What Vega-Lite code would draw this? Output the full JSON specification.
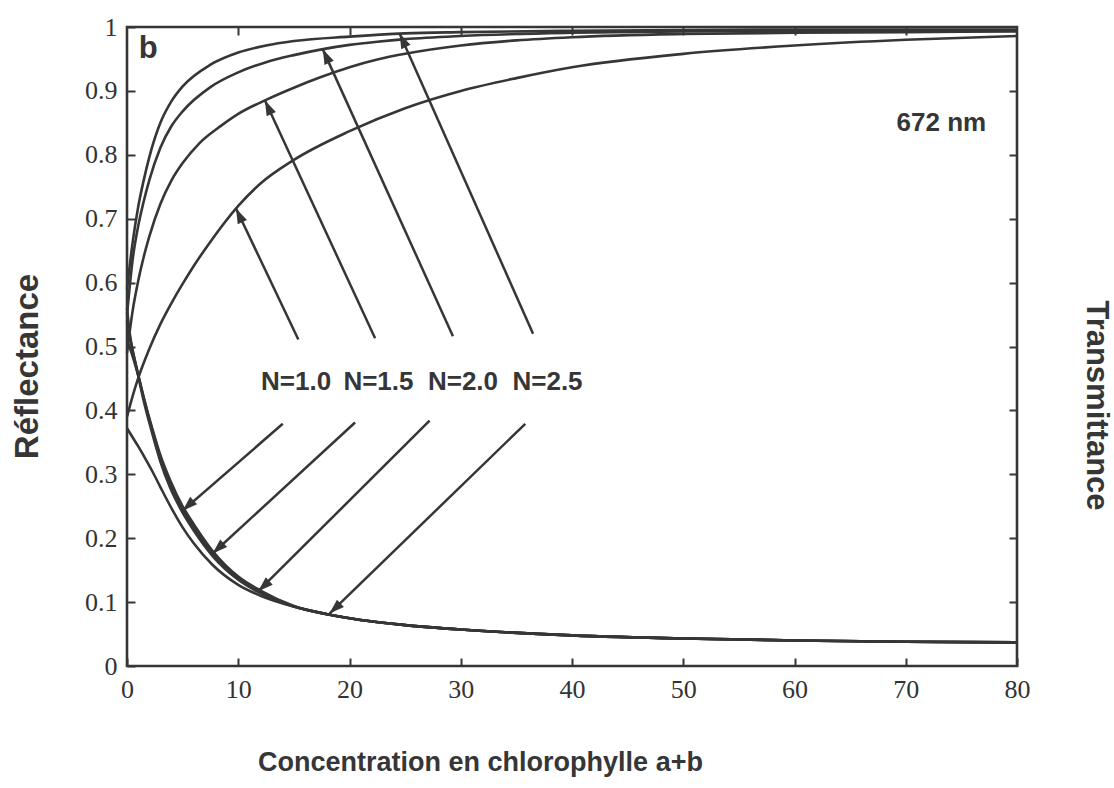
{
  "$schema": "https://vega.github.io/schema/vega-lite/v6.json",
  "width": 890,
  "height": 639,
  "autosize": {"type": "none"},
  "padding": {"left": 127, "top": 27, "right": 97, "bottom": 122},
  "background": "white",
  "config": {
    "view": {"stroke": "#363636", "strokeWidth": 2.6},
    "axis": {
      "grid": false,
      "domain": false,
      "tickColor": "#363636",
      "tickWidth": 2,
      "labelColor": "#333333",
      "titleColor": "#363636",
      "labelFont": "Liberation Serif",
      "labelFontSize": 26,
      "titleFont": "Liberation Sans",
      "titleFontWeight": "bold"
    }
  },
  "datasets": {
    "curves": [
      {"curve": "T N=1.0", "c": 0, "v": 0.39}, {"curve": "T N=1.0", "c": 0.5, "v": 0.422}, {"curve": "T N=1.0", "c": 1, "v": 0.45}, {"curve": "T N=1.0", "c": 2, "v": 0.496}, {"curve": "T N=1.0", "c": 3, "v": 0.535}, {"curve": "T N=1.0", "c": 4, "v": 0.568}, {"curve": "T N=1.0", "c": 5, "v": 0.598}, {"curve": "T N=1.0", "c": 6, "v": 0.626}, {"curve": "T N=1.0", "c": 7.5, "v": 0.664}, {"curve": "T N=1.0", "c": 10, "v": 0.72}, {"curve": "T N=1.0", "c": 12, "v": 0.755}, {"curve": "T N=1.0", "c": 15, "v": 0.792}, {"curve": "T N=1.0", "c": 20, "v": 0.837}, {"curve": "T N=1.0", "c": 25, "v": 0.873}, {"curve": "T N=1.0", "c": 30, "v": 0.9}, {"curve": "T N=1.0", "c": 35, "v": 0.92}, {"curve": "T N=1.0", "c": 40, "v": 0.937}, {"curve": "T N=1.0", "c": 50, "v": 0.958}, {"curve": "T N=1.0", "c": 60, "v": 0.971}, {"curve": "T N=1.0", "c": 70, "v": 0.98}, {"curve": "T N=1.0", "c": 80, "v": 0.986},
      {"curve": "T N=1.5", "c": 0, "v": 0.49}, {"curve": "T N=1.5", "c": 0.5, "v": 0.555}, {"curve": "T N=1.5", "c": 1, "v": 0.602}, {"curve": "T N=1.5", "c": 1.5, "v": 0.64}, {"curve": "T N=1.5", "c": 2, "v": 0.672}, {"curve": "T N=1.5", "c": 3, "v": 0.723}, {"curve": "T N=1.5", "c": 4, "v": 0.76}, {"curve": "T N=1.5", "c": 5, "v": 0.787}, {"curve": "T N=1.5", "c": 6.5, "v": 0.818}, {"curve": "T N=1.5", "c": 8.5, "v": 0.846}, {"curve": "T N=1.5", "c": 10, "v": 0.864}, {"curve": "T N=1.5", "c": 12.5, "v": 0.886}, {"curve": "T N=1.5", "c": 15, "v": 0.905}, {"curve": "T N=1.5", "c": 17.5, "v": 0.922}, {"curve": "T N=1.5", "c": 20, "v": 0.937}, {"curve": "T N=1.5", "c": 22.5, "v": 0.949}, {"curve": "T N=1.5", "c": 25, "v": 0.958}, {"curve": "T N=1.5", "c": 30, "v": 0.971}, {"curve": "T N=1.5", "c": 35, "v": 0.979}, {"curve": "T N=1.5", "c": 40, "v": 0.984}, {"curve": "T N=1.5", "c": 50, "v": 0.989}, {"curve": "T N=1.5", "c": 60, "v": 0.991}, {"curve": "T N=1.5", "c": 70, "v": 0.992}, {"curve": "T N=1.5", "c": 80, "v": 0.993},
      {"curve": "T N=2.0", "c": 0, "v": 0.55}, {"curve": "T N=2.0", "c": 0.5, "v": 0.635}, {"curve": "T N=2.0", "c": 1, "v": 0.688}, {"curve": "T N=2.0", "c": 1.5, "v": 0.727}, {"curve": "T N=2.0", "c": 2, "v": 0.76}, {"curve": "T N=2.0", "c": 3, "v": 0.811}, {"curve": "T N=2.0", "c": 4, "v": 0.845}, {"curve": "T N=2.0", "c": 5, "v": 0.868}, {"curve": "T N=2.0", "c": 7.5, "v": 0.906}, {"curve": "T N=2.0", "c": 10, "v": 0.929}, {"curve": "T N=2.0", "c": 12.5, "v": 0.945}, {"curve": "T N=2.0", "c": 15, "v": 0.956}, {"curve": "T N=2.0", "c": 17.5, "v": 0.965}, {"curve": "T N=2.0", "c": 20, "v": 0.972}, {"curve": "T N=2.0", "c": 22.5, "v": 0.977}, {"curve": "T N=2.0", "c": 25, "v": 0.981}, {"curve": "T N=2.0", "c": 30, "v": 0.986}, {"curve": "T N=2.0", "c": 40, "v": 0.991}, {"curve": "T N=2.0", "c": 50, "v": 0.993}, {"curve": "T N=2.0", "c": 60, "v": 0.994}, {"curve": "T N=2.0", "c": 80, "v": 0.995},
      {"curve": "T N=2.5", "c": 0, "v": 0.59}, {"curve": "T N=2.5", "c": 0.5, "v": 0.662}, {"curve": "T N=2.5", "c": 1, "v": 0.718}, {"curve": "T N=2.5", "c": 1.5, "v": 0.76}, {"curve": "T N=2.5", "c": 2, "v": 0.796}, {"curve": "T N=2.5", "c": 3, "v": 0.85}, {"curve": "T N=2.5", "c": 4, "v": 0.884}, {"curve": "T N=2.5", "c": 5, "v": 0.907}, {"curve": "T N=2.5", "c": 7.5, "v": 0.941}, {"curve": "T N=2.5", "c": 10, "v": 0.96}, {"curve": "T N=2.5", "c": 12.5, "v": 0.971}, {"curve": "T N=2.5", "c": 15, "v": 0.978}, {"curve": "T N=2.5", "c": 20, "v": 0.985}, {"curve": "T N=2.5", "c": 25, "v": 0.99}, {"curve": "T N=2.5", "c": 30, "v": 0.992}, {"curve": "T N=2.5", "c": 40, "v": 0.994}, {"curve": "T N=2.5", "c": 60, "v": 0.996}, {"curve": "T N=2.5", "c": 80, "v": 0.996},
      {"curve": "R N=1.0", "c": 0, "v": 0.372}, {"curve": "R N=1.0", "c": 0.5, "v": 0.358}, {"curve": "R N=1.0", "c": 1, "v": 0.344}, {"curve": "R N=1.0", "c": 1.5, "v": 0.329}, {"curve": "R N=1.0", "c": 2.3, "v": 0.304}, {"curve": "R N=1.0", "c": 3, "v": 0.28}, {"curve": "R N=1.0", "c": 3.9, "v": 0.25}, {"curve": "R N=1.0", "c": 5, "v": 0.217}, {"curve": "R N=1.0", "c": 6, "v": 0.192}, {"curve": "R N=1.0", "c": 7.7, "v": 0.158}, {"curve": "R N=1.0", "c": 10, "v": 0.127}, {"curve": "R N=1.0", "c": 12, "v": 0.11}, {"curve": "R N=1.0", "c": 15, "v": 0.093}, {"curve": "R N=1.0", "c": 18, "v": 0.081}, {"curve": "R N=1.0", "c": 21, "v": 0.072}, {"curve": "R N=1.0", "c": 25, "v": 0.064}, {"curve": "R N=1.0", "c": 30, "v": 0.057}, {"curve": "R N=1.0", "c": 40, "v": 0.048}, {"curve": "R N=1.0", "c": 50, "v": 0.043}, {"curve": "R N=1.0", "c": 60, "v": 0.04}, {"curve": "R N=1.0", "c": 70, "v": 0.038}, {"curve": "R N=1.0", "c": 80, "v": 0.037},
      {"curve": "R N=1.5", "c": 0, "v": 0.51}, {"curve": "R N=1.5", "c": 0.5, "v": 0.485}, {"curve": "R N=1.5", "c": 1, "v": 0.455}, {"curve": "R N=1.5", "c": 1.5, "v": 0.42}, {"curve": "R N=1.5", "c": 2.3, "v": 0.37}, {"curve": "R N=1.5", "c": 3, "v": 0.33}, {"curve": "R N=1.5", "c": 3.9, "v": 0.29}, {"curve": "R N=1.5", "c": 5, "v": 0.25}, {"curve": "R N=1.5", "c": 6, "v": 0.222}, {"curve": "R N=1.5", "c": 7.7, "v": 0.18}, {"curve": "R N=1.5", "c": 10, "v": 0.14}, {"curve": "R N=1.5", "c": 12, "v": 0.118}, {"curve": "R N=1.5", "c": 15, "v": 0.094}, {"curve": "R N=1.5", "c": 18, "v": 0.081}, {"curve": "R N=1.5", "c": 21, "v": 0.072}, {"curve": "R N=1.5", "c": 25, "v": 0.064}, {"curve": "R N=1.5", "c": 30, "v": 0.057}, {"curve": "R N=1.5", "c": 40, "v": 0.048}, {"curve": "R N=1.5", "c": 50, "v": 0.043}, {"curve": "R N=1.5", "c": 60, "v": 0.04}, {"curve": "R N=1.5", "c": 70, "v": 0.038}, {"curve": "R N=1.5", "c": 80, "v": 0.037},
      {"curve": "R N=2.0", "c": 0, "v": 0.54}, {"curve": "R N=2.0", "c": 0.25, "v": 0.515}, {"curve": "R N=2.0", "c": 0.5, "v": 0.494}, {"curve": "R N=2.0", "c": 1, "v": 0.457}, {"curve": "R N=2.0", "c": 1.5, "v": 0.42}, {"curve": "R N=2.0", "c": 2.3, "v": 0.367}, {"curve": "R N=2.0", "c": 3, "v": 0.326}, {"curve": "R N=2.0", "c": 3.9, "v": 0.284}, {"curve": "R N=2.0", "c": 5, "v": 0.245}, {"curve": "R N=2.0", "c": 6, "v": 0.217}, {"curve": "R N=2.0", "c": 7.7, "v": 0.176}, {"curve": "R N=2.0", "c": 10, "v": 0.138}, {"curve": "R N=2.0", "c": 12, "v": 0.116}, {"curve": "R N=2.0", "c": 15, "v": 0.093}, {"curve": "R N=2.0", "c": 18, "v": 0.081}, {"curve": "R N=2.0", "c": 21, "v": 0.072}, {"curve": "R N=2.0", "c": 25, "v": 0.064}, {"curve": "R N=2.0", "c": 30, "v": 0.057}, {"curve": "R N=2.0", "c": 40, "v": 0.048}, {"curve": "R N=2.0", "c": 50, "v": 0.043}, {"curve": "R N=2.0", "c": 60, "v": 0.04}, {"curve": "R N=2.0", "c": 70, "v": 0.038}, {"curve": "R N=2.0", "c": 80, "v": 0.037},
      {"curve": "R N=2.5", "c": 0, "v": 0.56}, {"curve": "R N=2.5", "c": 0.25, "v": 0.52}, {"curve": "R N=2.5", "c": 0.5, "v": 0.495}, {"curve": "R N=2.5", "c": 1, "v": 0.455}, {"curve": "R N=2.5", "c": 1.5, "v": 0.415}, {"curve": "R N=2.5", "c": 2.3, "v": 0.362}, {"curve": "R N=2.5", "c": 3, "v": 0.32}, {"curve": "R N=2.5", "c": 3.9, "v": 0.278}, {"curve": "R N=2.5", "c": 5, "v": 0.24}, {"curve": "R N=2.5", "c": 6, "v": 0.212}, {"curve": "R N=2.5", "c": 7.7, "v": 0.172}, {"curve": "R N=2.5", "c": 10, "v": 0.135}, {"curve": "R N=2.5", "c": 12, "v": 0.114}, {"curve": "R N=2.5", "c": 15, "v": 0.093}, {"curve": "R N=2.5", "c": 18, "v": 0.081}, {"curve": "R N=2.5", "c": 21, "v": 0.072}, {"curve": "R N=2.5", "c": 25, "v": 0.064}, {"curve": "R N=2.5", "c": 30, "v": 0.057}, {"curve": "R N=2.5", "c": 40, "v": 0.048}, {"curve": "R N=2.5", "c": 50, "v": 0.043}, {"curve": "R N=2.5", "c": 60, "v": 0.04}, {"curve": "R N=2.5", "c": 70, "v": 0.038}, {"curve": "R N=2.5", "c": 80, "v": 0.037}
    ],
    "arrows": [
      {"N": "N=1.0", "side": "up", "c0": 15.4, "v0": 0.511, "c1": 9.8, "v1": 0.716},
      {"N": "N=1.5", "side": "up", "c0": 22.3, "v0": 0.513, "c1": 12.4, "v1": 0.885},
      {"N": "N=2.0", "side": "up", "c0": 29.3, "v0": 0.516, "c1": 17.6, "v1": 0.965},
      {"N": "N=2.5", "side": "up", "c0": 36.5, "v0": 0.52, "c1": 24.5, "v1": 0.99},
      {"N": "N=1.0", "side": "down", "c0": 14.0, "v0": 0.379, "c1": 5.0, "v1": 0.243},
      {"N": "N=1.5", "side": "down", "c0": 20.5, "v0": 0.381, "c1": 7.7, "v1": 0.176},
      {"N": "N=2.0", "side": "down", "c0": 27.2, "v0": 0.384, "c1": 11.8, "v1": 0.117},
      {"N": "N=2.5", "side": "down", "c0": 35.8, "v0": 0.379, "c1": 18.2, "v1": 0.082}
    ],
    "labels": [
      {"text": "N=1.0", "c": 15.2, "v": 0.444},
      {"text": "N=1.5", "c": 22.6, "v": 0.444},
      {"text": "N=2.0", "c": 30.2, "v": 0.444},
      {"text": "N=2.5", "c": 37.8, "v": 0.444}
    ],
    "notes": [
      {"text": "672 nm", "c": 73.2, "v": 0.85, "size": "m"},
      {"text": "b", "c": 1.9, "v": 0.965, "size": "l"}
    ]
  },
  "resolve": {"axis": {"x": "independent", "y": "independent"}},
  "layer": [
    {
      "data": {"name": "curves"},
      "mark": {"type": "line", "color": "#363636", "strokeWidth": 2.6, "interpolate": "monotone"},
      "encoding": {
        "x": {"field": "c", "type": "quantitative", "scale": {"domain": [0, 80], "nice": false},
          "axis": {"orient": "bottom", "values": [0, 10, 20, 30, 40, 50, 60, 70, 80], "tickSize": -8, "labelPadding": 18, "labelFlush": false,
            "title": "Concentration en chlorophylle a+b", "titleFontSize": 27, "titleX": 353, "titleY": 96, "titleBaseline": "middle", "titleAnchor": null}},
        "y": {"field": "v", "type": "quantitative", "scale": {"domain": [0, 1], "nice": false},
          "axis": {"orient": "left", "values": [0, 0.1, 0.2, 0.3, 0.4, 0.5, 0.6, 0.7, 0.8, 0.9, 1], "tickSize": -8, "labelPadding": 18, "labelFlush": false,
            "labelExpr": "datum.value === 0 ? '0' : datum.value === 1 ? '1' : format(datum.value, '.1f')",
            "title": "Réflectance", "titleFontSize": 33, "titleX": -100, "titleY": 339, "titleAngle": -90, "titleBaseline": "middle", "titleAlign": "center"}},
        "detail": {"field": "curve"}
      }
    },
    {
      "data": {"name": "arrows"},
      "mark": {"type": "rule", "color": "#363636", "strokeWidth": 2.5},
      "encoding": {
        "x": {"field": "c0", "type": "quantitative",
          "axis": {"orient": "top", "values": [10, 20, 30, 40, 50, 60, 70], "tickSize": -8, "labels": false, "title": null}},
        "y": {"field": "v0", "type": "quantitative",
          "axis": {"orient": "right", "values": [0.1, 0.2, 0.3, 0.4, 0.5, 0.6, 0.7, 0.8, 0.9], "tickSize": -8, "labels": false,
            "title": "Transmittance", "titleFontSize": 31, "titleX": 78, "titleY": 378, "titleAngle": 90, "titleBaseline": "middle", "titleAlign": "center"}},
        "x2": {"field": "c1"},
        "y2": {"field": "v1"}
      }
    },
    {
      "data": {"name": "arrows"},
      "transform": [{"filter": "datum.side === 'up'"}],
      "mark": {"type": "point", "shape": "M0,0L-0.34,1L0.34,1Z", "filled": true, "color": "#363636", "opacity": 1, "size": 900, "angle": 335},
      "encoding": {
        "x": {"field": "c1", "type": "quantitative", "axis": null},
        "y": {"field": "v1", "type": "quantitative", "axis": null}
      }
    },
    {
      "data": {"name": "arrows"},
      "transform": [{"filter": "datum.side === 'down'"}],
      "mark": {"type": "point", "shape": "M0,0L-0.34,1L0.34,1Z", "filled": true, "color": "#363636", "opacity": 1, "size": 900, "angle": 227},
      "encoding": {
        "x": {"field": "c1", "type": "quantitative", "axis": null},
        "y": {"field": "v1", "type": "quantitative", "axis": null}
      }
    },
    {
      "data": {"name": "labels"},
      "mark": {"type": "text", "font": "Liberation Sans", "fontWeight": "bold", "fontSize": 26, "color": "#363636", "baseline": "middle", "align": "center"},
      "encoding": {
        "x": {"field": "c", "type": "quantitative", "axis": null},
        "y": {"field": "v", "type": "quantitative", "axis": null},
        "text": {"field": "text"}
      }
    },
    {
      "data": {"name": "notes"},
      "transform": [{"filter": "datum.size === 'm'"}],
      "mark": {"type": "text", "font": "Liberation Sans", "fontWeight": "bold", "fontSize": 26, "color": "#363636", "baseline": "middle", "align": "center"},
      "encoding": {
        "x": {"field": "c", "type": "quantitative", "axis": null},
        "y": {"field": "v", "type": "quantitative", "axis": null},
        "text": {"field": "text"}
      }
    },
    {
      "data": {"name": "notes"},
      "transform": [{"filter": "datum.size === 'l'"}],
      "mark": {"type": "text", "font": "Liberation Sans", "fontWeight": "bold", "fontSize": 31, "color": "#363636", "baseline": "middle", "align": "center"},
      "encoding": {
        "x": {"field": "c", "type": "quantitative", "axis": null},
        "y": {"field": "v", "type": "quantitative", "axis": null},
        "text": {"field": "text"}
      }
    }
  ]
}
